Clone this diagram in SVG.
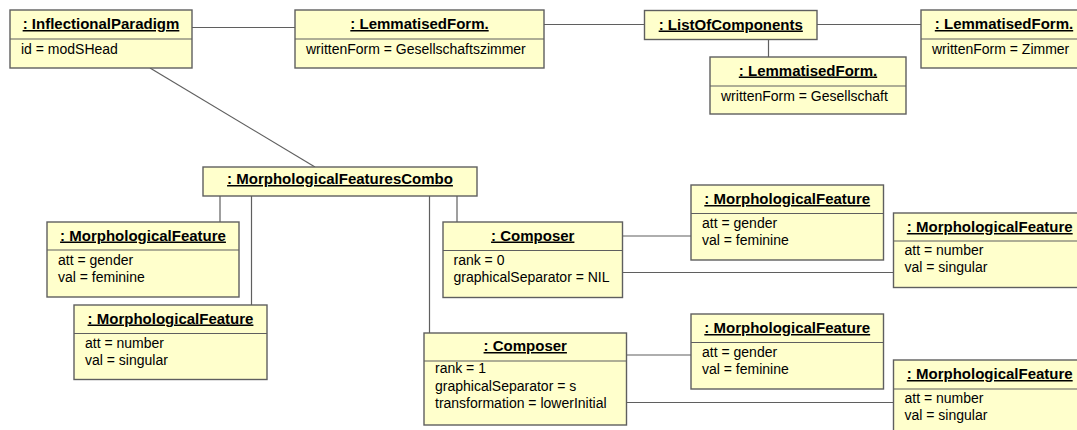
<svg xmlns="http://www.w3.org/2000/svg" width="1077" height="430" viewBox="0 0 1077 430">
  <style>
    .box { fill: #FFFFCC; stroke: #5f5f5f; stroke-width: 1.4; }
    .sep { stroke: #5f5f5f; stroke-width: 1.2; }
    .title { font-family: "Liberation Sans", Arial, sans-serif; font-size: 15px; font-weight: bold; text-anchor: middle; text-decoration: underline; fill: #000; }
    .attr { font-family: "Liberation Sans", Arial, sans-serif; font-size: 14px; fill: #000; }
    #connectors line { stroke: #5f5f5f; stroke-width: 1.2; fill: none; }
  </style>

  <!-- links between the objects -->
  <g id="connectors">
    <line x1="192" y1="27.5" x2="295" y2="27.5"/>
    <line x1="544" y1="24.5" x2="644.5" y2="24.5"/>
    <line x1="817" y1="24.5" x2="921" y2="24.5"/>
    <line x1="768.5" y1="39.5" x2="768.5" y2="57"/>
    <line x1="150" y1="68" x2="315" y2="167"/>
    <line x1="220" y1="196" x2="220" y2="222"/>
    <line x1="251.5" y1="196" x2="251.5" y2="305"/>
    <line x1="429.5" y1="196" x2="429.5" y2="333"/>
    <line x1="457" y1="196" x2="457" y2="222"/>
    <line x1="622.5" y1="236" x2="691" y2="236"/>
    <line x1="622.5" y1="272.5" x2="893.5" y2="272.5"/>
    <line x1="626.5" y1="355" x2="691" y2="355"/>
    <line x1="626.5" y1="402.5" x2="893.5" y2="402.5"/>
  </g>

  <g id="inflectionalParadigm">
    <rect class="box" x="10" y="10" width="182" height="58"/>
    <line class="sep" x1="10" y1="39" x2="192" y2="39"/>
    <text class="title" x="101" y="29">: InflectionalParadigm</text>
    <text class="attr" x="21" y="53.5">id = modSHead</text>
  </g>

  <g id="lemmatisedForm1">
    <rect class="box" x="295" y="10" width="249" height="58"/>
    <line class="sep" x1="295" y1="39" x2="544" y2="39"/>
    <text class="title" x="419.5" y="29">: LemmatisedForm.</text>
    <text class="attr" x="306" y="53.5">writtenForm = Gesellschaftszimmer</text>
  </g>

  <g id="listOfComponents">
    <rect class="box" x="644.5" y="10.5" width="172.5" height="29"/>
    <text class="title" x="730.75" y="29.5">: ListOfComponents</text>
  </g>

  <g id="lemmatisedForm3">
    <rect class="box" x="921" y="10" width="166" height="58"/>
    <line class="sep" x1="921" y1="39" x2="1087" y2="39"/>
    <text class="title" x="1004" y="29">: LemmatisedForm.</text>
    <text class="attr" x="932" y="53.5">writtenForm = Zimmer</text>
  </g>

  <g id="lemmatisedForm2">
    <rect class="box" x="710" y="57" width="196" height="57"/>
    <line class="sep" x1="710" y1="86" x2="906" y2="86"/>
    <text class="title" x="808" y="75.5">: LemmatisedForm.</text>
    <text class="attr" x="721" y="100.5">writtenForm = Gesellschaft</text>
  </g>

  <g id="morphologicalFeaturesCombo">
    <rect class="box" x="203" y="167" width="274" height="29"/>
    <text class="title" x="340" y="184">: MorphologicalFeaturesCombo</text>
  </g>

  <g id="featureLeftGender">
    <rect class="box" x="47" y="222" width="192" height="75"/>
    <line class="sep" x1="47" y1="250" x2="239" y2="250"/>
    <text class="title" x="143" y="240.5">: MorphologicalFeature</text>
    <text class="attr" x="58" y="264.5">att = gender</text>
    <text class="attr" x="58" y="281.5">val = feminine</text>
  </g>

  <g id="featureLeftNumber">
    <rect class="box" x="74" y="305" width="193" height="74.5"/>
    <line class="sep" x1="74" y1="333.5" x2="267" y2="333.5"/>
    <text class="title" x="170.5" y="323.5">: MorphologicalFeature</text>
    <text class="attr" x="85" y="347.5">att = number</text>
    <text class="attr" x="85" y="364.5">val = singular</text>
  </g>

  <g id="composer0">
    <rect class="box" x="443" y="222" width="179.5" height="75.5"/>
    <line class="sep" x1="443" y1="250.5" x2="622.5" y2="250.5"/>
    <text class="title" x="532.75" y="240.5">: Composer</text>
    <text class="attr" x="453.5" y="264.5">rank = 0</text>
    <text class="attr" x="453.5" y="282">graphicalSeparator = NIL</text>
  </g>

  <g id="composer1">
    <rect class="box" x="424" y="333" width="202.5" height="92"/>
    <line class="sep" x1="424" y1="361" x2="626.5" y2="361"/>
    <text class="title" x="525.25" y="351">: Composer</text>
    <text class="attr" x="435" y="373">rank = 1</text>
    <text class="attr" x="435" y="390.5">graphicalSeparator = s</text>
    <text class="attr" x="435" y="408">transformation = lowerInitial</text>
  </g>

  <g id="featureRightGender0">
    <rect class="box" x="691" y="185" width="192.5" height="75"/>
    <line class="sep" x1="691" y1="213.5" x2="883.5" y2="213.5"/>
    <text class="title" x="787.25" y="204">: MorphologicalFeature</text>
    <text class="attr" x="702" y="227.5">att = gender</text>
    <text class="attr" x="702" y="244.5">val = feminine</text>
  </g>

  <g id="featureRightNumber0">
    <rect class="box" x="893.5" y="213" width="192.5" height="74.5"/>
    <line class="sep" x1="893.5" y1="241" x2="1086" y2="241"/>
    <text class="title" x="989.75" y="232">: MorphologicalFeature</text>
    <text class="attr" x="904.5" y="255">att = number</text>
    <text class="attr" x="904.5" y="272">val = singular</text>
  </g>

  <g id="featureRightGender1">
    <rect class="box" x="691" y="314" width="192.5" height="75"/>
    <line class="sep" x1="691" y1="342.5" x2="883.5" y2="342.5"/>
    <text class="title" x="787.25" y="333">: MorphologicalFeature</text>
    <text class="attr" x="702" y="356.5">att = gender</text>
    <text class="attr" x="702" y="373.5">val = feminine</text>
  </g>

  <g id="featureRightNumber1">
    <rect class="box" x="893.5" y="360" width="192.5" height="75"/>
    <line class="sep" x1="893.5" y1="389" x2="1086" y2="389"/>
    <text class="title" x="989.75" y="379">: MorphologicalFeature</text>
    <text class="attr" x="904.5" y="403">att = number</text>
    <text class="attr" x="904.5" y="420">val = singular</text>
  </g>
</svg>
